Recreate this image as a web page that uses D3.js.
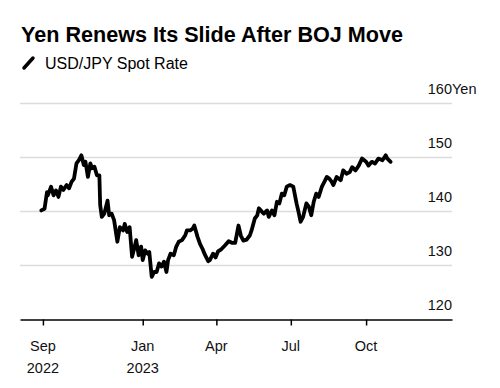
<!DOCTYPE html>
<html>
<head>
<meta charset="utf-8">
<script src="https://cdn.jsdelivr.net/npm/d3@7"></script>
<style>
  body { margin: 0; background: #fff; }
  svg { display: block; font-family: "Liberation Sans", Arial, sans-serif; }
</style>
</head>
<body>
<div id="chart"></div>
<script>
// USD/JPY spot rate
const dates = [
  "2022-08-30","2022-09-03","2022-09-06","2022-09-07","2022-09-11","2022-09-14","2022-09-17","2022-09-20",
  "2022-09-23","2022-09-26","2022-09-30","2022-10-03","2022-10-06","2022-10-09","2022-10-12","2022-10-15",
  "2022-10-18","2022-10-21","2022-10-23","2022-10-26","2022-10-29","2022-10-31","2022-11-03","2022-11-06",
  "2022-11-09","2022-11-10","2022-11-12","2022-11-15","2022-11-19","2022-11-21","2022-11-24","2022-11-27",
  "2022-12-01","2022-12-04","2022-12-08","2022-12-10","2022-12-13","2022-12-16","2022-12-19","2022-12-21",
  "2022-12-24","2022-12-27","2022-12-30","2023-01-01","2023-01-04","2023-01-07","2023-01-09","2023-01-12",
  "2023-01-15","2023-01-18","2023-01-21","2023-01-24","2023-01-27","2023-01-30","2023-02-01","2023-02-04",
  "2023-02-08","2023-02-11","2023-02-14","2023-02-18","2023-02-22","2023-02-24","2023-02-28","2023-03-03",
  "2023-03-05","2023-03-09","2023-03-12","2023-03-15","2023-03-18","2023-03-22","2023-03-24","2023-03-28",
  "2023-03-31","2023-04-03","2023-04-07","2023-04-12","2023-04-16","2023-04-20","2023-04-24","2023-04-28",
  "2023-05-01","2023-05-04","2023-05-08","2023-05-12","2023-05-14","2023-05-18","2023-05-21","2023-05-23",
  "2023-05-27","2023-05-29","2023-06-02","2023-06-04","2023-06-08","2023-06-11","2023-06-14","2023-06-17",
  "2023-06-20","2023-06-23","2023-06-26","2023-06-30","2023-07-04","2023-07-08","2023-07-10","2023-07-13",
  "2023-07-16","2023-07-20","2023-07-23","2023-07-26","2023-07-29","2023-08-01","2023-08-04","2023-08-08",
  "2023-08-11","2023-08-14","2023-08-17","2023-08-20","2023-08-22","2023-08-26","2023-08-31","2023-09-03",
  "2023-09-07","2023-09-11","2023-09-14","2023-09-18","2023-09-22","2023-09-26","2023-10-01","2023-10-04",
  "2023-10-08","2023-10-12","2023-10-16","2023-10-21","2023-10-25","2023-10-27","2023-10-31"
];
const rates = [
  140.2,140.5,143.6,143.0,144.6,143.0,143.9,142.7,
  144.6,144.0,144.9,144.3,145.5,146.1,148.9,149.5,
  150.4,148.6,149.2,146.4,148.9,148.0,148.3,146.7,
  146.7,141.2,139.0,139.6,142.0,139.3,139.6,138.4,
  134.4,137.1,136.5,137.7,136.2,137.1,131.6,132.8,
  134.7,131.9,133.5,131.0,132.8,132.2,132.5,127.9,
  128.8,128.8,130.4,129.8,130.7,128.8,131.0,132.2,
  131.9,133.5,134.4,134.7,135.6,136.5,136.5,136.8,
  137.4,135.3,134.0,133.1,132.0,130.8,131.0,132.2,
  131.5,132.6,133.0,133.8,134.5,134.2,134.2,137.4,
  135.5,134.6,134.8,135.6,136.5,138.7,139.3,140.6,
  139.9,139.6,140.2,139.0,140.2,139.3,141.8,141.5,
  143.3,143.0,144.6,144.9,144.6,141.5,140.2,138.1,
  139.0,141.5,140.9,139.3,141.8,143.3,142.7,144.6,
  145.5,146.4,146.1,145.5,144.9,146.4,145.8,147.6,
  147.0,147.3,148.2,147.6,148.5,149.8,149.2,148.5,
  149.2,148.9,149.8,149.5,150.4,149.8,149.2
];

const yTicks = [120, 130, 140, 150, 160];
const xTicks = ["2022-09-01", "2023-01-01", "2023-04-01", "2023-07-01", "2023-10-01"];
const xTickLabels = [["Sep", "2022"], ["Jan", "2023"], ["Apr"], ["Jul"], ["Oct"]];

const title = "Yen Renews Its Slide After BOJ Move";
const subtitle = "USD/JPY Spot Rate";

const width = 500, height = 388;
const parse = d3.timeParse("%Y-%m-%d");
const series = dates.map((d, i) => ({date: parse(d), value: rates[i]}));

const svg = d3.select("#chart").append("svg")
    .attr("width", width)
    .attr("height", height);

const x = d3.scaleTime()
    .domain([parse("2022-08-04"), parse("2024-01-14")])
    .range([20, 452]);

const y = d3.scaleLinear()
    .domain([120, 160])
    .range([319.5, 103.5]);

// title + legend
svg.append("text")
    .attr("x", 21)
    .attr("y", 42)
    .attr("font-size", 21.6)
    .attr("font-weight", "bold")
    .attr("fill", "#000")
    .text(title);

svg.append("line")
    .attr("x1", 24).attr("y1", 68)
    .attr("x2", 33).attr("y2", 58)
    .attr("stroke", "#000")
    .attr("stroke-width", 3.5)
    .attr("stroke-linecap", "round");

svg.append("text")
    .attr("x", 45)
    .attr("y", 69)
    .attr("font-size", 16)
    .attr("fill", "#000")
    .text(subtitle);

// gridlines
svg.append("g")
    .selectAll("line")
    .data(yTicks.filter(d => d !== 120))
    .join("line")
    .attr("x1", 20)
    .attr("x2", 452)
    .attr("y1", d => y(d))
    .attr("y2", d => y(d))
    .attr("stroke", "#dcdcdc")
    .attr("stroke-width", 1.5);

// y labels
const yLab = svg.append("g")
    .attr("font-size", 14.5)
    .attr("fill", "#111");

yLab.selectAll("text")
    .data(yTicks)
    .join("text")
    .attr("x", 452)
    .attr("y", d => y(d) - 9.5)
    .attr("text-anchor", "end")
    .text(d => d);

yLab.append("text")
    .attr("x", 452)
    .attr("y", y(160) - 9.5)
    .text("Yen");

// x axis
const xAxis = d3.axisBottom(x)
    .tickValues(xTicks.map(parse))
    .tickSize(6)
    .tickSizeOuter(0)
    .tickFormat("");

svg.append("g")
    .attr("class", "axis x-axis")
    .attr("transform", `translate(0, ${y(120)})`)
    .call(xAxis)
    .call(g => g.select(".domain").attr("stroke", "#000").attr("stroke-width", 1.5))
    .call(g => g.selectAll(".tick line").attr("stroke", "#000").attr("stroke-width", 1.5));

const xLab = svg.append("g")
    .attr("font-size", 14.5)
    .attr("fill", "#111")
    .attr("text-anchor", "middle");

xTicks.forEach((t, i) => {
    xTickLabels[i].forEach((s, j) => {
        xLab.append("text")
            .attr("x", x(parse(t)))
            .attr("y", 351 + j * 22)
            .text(s);
    });
});

// the line
const line = d3.line()
    .x(d => x(d.date))
    .y(d => y(d.value));

svg.append("path")
    .datum(series)
    .attr("fill", "none")
    .attr("stroke", "#000")
    .attr("stroke-width", 3.8)
    .attr("stroke-linejoin", "round")
    .attr("stroke-linecap", "round")
    .attr("d", line);
</script>
</body>
</html>
